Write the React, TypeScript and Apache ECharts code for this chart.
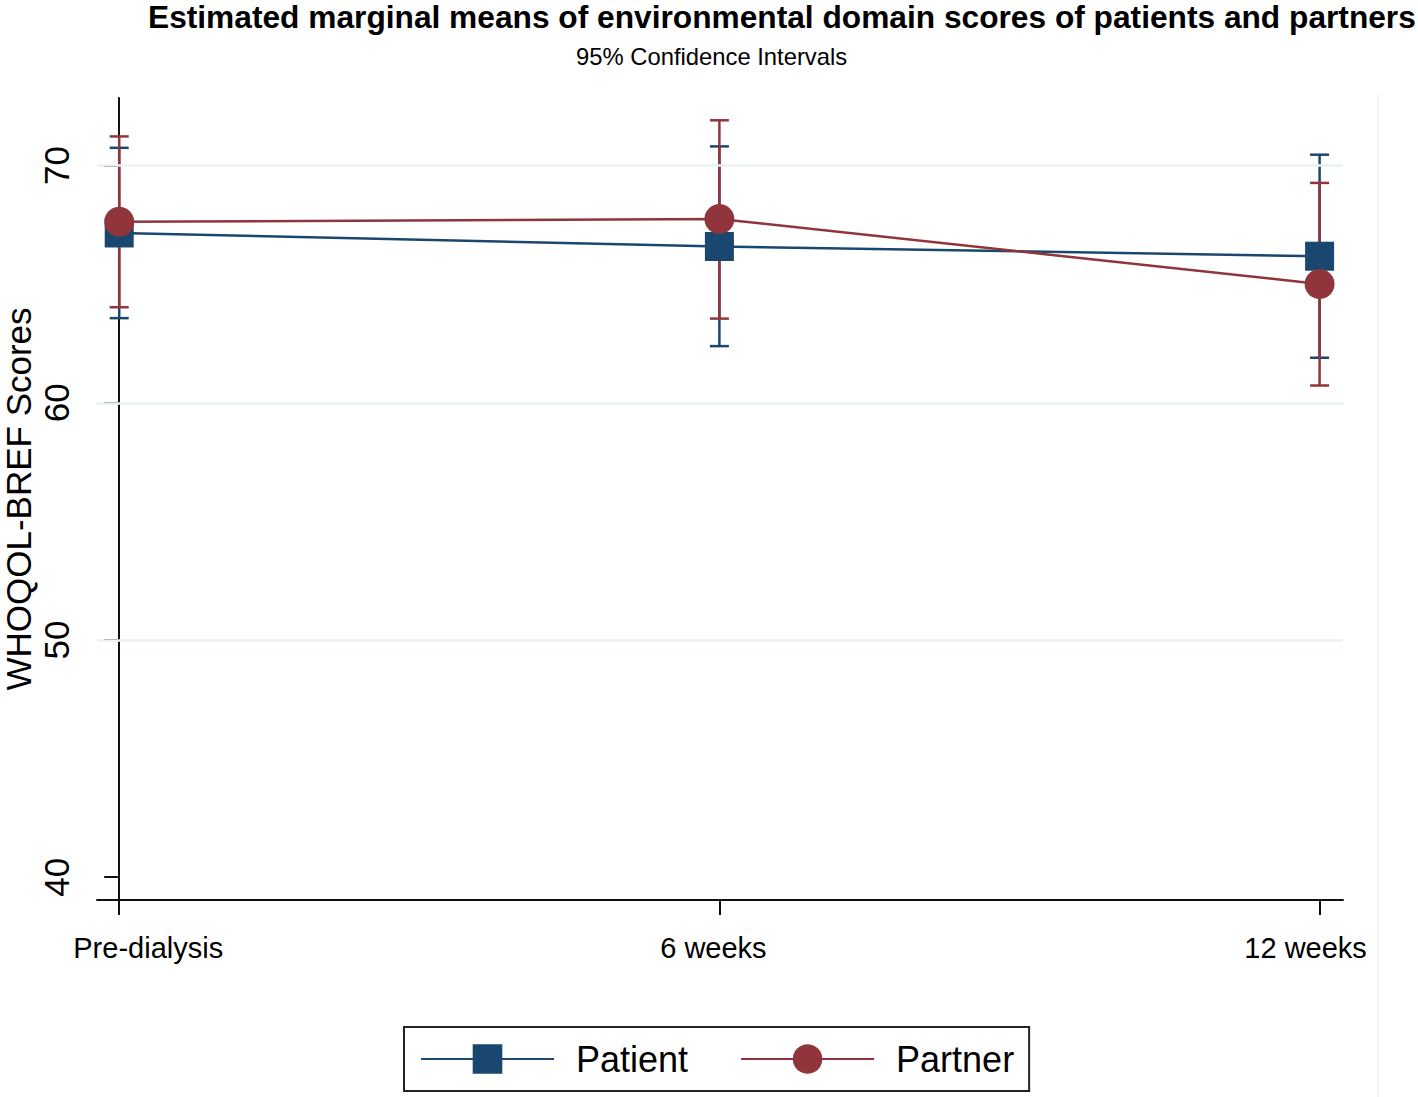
import React, { useEffect, useRef } from "react";
import * as echarts from "echarts";

const timePoints = ["Pre-dialysis", "6 weeks", "12 weeks"];
const timeX = [0, 1, 2];

const patientMean = [67.16, 66.59, 66.18];
const patientLow = [63.57, 62.39, 61.9];
const patientHigh = [70.75, 70.81, 70.46];

const partnerMean = [67.63, 67.75, 65.01];
const partnerLow = [64.03, 63.55, 60.73];
const partnerHigh = [71.23, 71.91, 69.27];

const yTicks = [40, 50, 60, 70];
const gridValues = [50, 60, 70];

const BLUE = "#1a476f";
const RED = "#90353b";
const SANS = "'Liberation Sans', Arial, sans-serif";

// label shifts (px) relative to tick, as in the reference
const labelShift = [29, -6, -14];

function errorBarSeries(name: string, color: string, low: number[], high: number[], z: number) {
  return {
    name,
    type: "custom",
    z,
    silent: true,
    data: timeX.map((x, i) => [x, low[i], high[i]]),
    renderItem: (_params: any, api: any) => {
      const x = api.value(0);
      const lo = api.coord([x, api.value(1)]);
      const hi = api.coord([x, api.value(2)]);
      const hw = 9.5;
      const style = { stroke: color, lineWidth: 2.5 };
      return {
        type: "group",
        children: [
          { type: "line", shape: { x1: lo[0], y1: lo[1], x2: hi[0], y2: hi[1] }, style },
          { type: "line", shape: { x1: lo[0] - hw, y1: lo[1], x2: lo[0] + hw, y2: lo[1] }, style },
          { type: "line", shape: { x1: hi[0] - hw, y1: hi[1], x2: hi[0] + hw, y2: hi[1] }, style },
        ],
      };
    },
  };
}

export default function App() {
  const ref = useRef<HTMLDivElement>(null);
  useEffect(() => {
    if (!ref.current) return;
    const chart = echarts.init(ref.current, null, { renderer: "svg" });
    const labelStyle = { fontFamily: SANS, fontSize: 29, color: "#000" };
    const option: any = {
      animation: false,
      backgroundColor: "#ffffff",
      title: [
        {
          text: "Estimated marginal means of environmental domain scores of patients and partners",
          left: 148,
          top: 1,
          padding: 0,
          textStyle: { fontFamily: SANS, fontWeight: "bold", fontSize: 31.7, color: "#000" },
        },
        {
          text: "95% Confidence Intervals",
          left: 576,
          top: 44,
          padding: 0,
          textStyle: { fontFamily: SANS, fontWeight: "normal", fontSize: 23.8, color: "#000" },
        },
      ],
      grid: { left: 97, right: 75, top: 98, bottom: 197, containLabel: false, outerBoundsMode: "none" },
      legend: {
        data: ["Patient", "Partner"],
        left: 404,
        top: 1027,
        orient: "horizontal",
        padding: [14, 15, 14, 16],
        itemWidth: 133,
        itemHeight: 37,
        itemGap: 52,
        borderColor: "#222",
        borderWidth: 2,
        borderRadius: 0,
        backgroundColor: "#fff",
        selectedMode: false,
        textStyle: { fontFamily: SANS, fontSize: 36, color: "#000", padding: [0, 0, 0, 17] },
      },
      xAxis: {
        type: "value",
        min: -0.037,
        max: 2.039,
        axisLine: { show: true, lineStyle: { color: "#111", width: 2 } },
        axisTick: { show: true, customValues: timeX, length: 15, lineStyle: { color: "#111", width: 2 } },
        splitLine: { show: false },
        axisLabel: {
          customValues: timeX,
          margin: 33,
          formatter: (v: number) => {
            const i = Math.round(v);
            return `{l${i}|${timePoints[i]}}`;
          },
          rich: {
            l0: { ...labelStyle, padding: [0, 0, 0, 2 * labelShift[0]] },
            l1: { ...labelStyle, padding: [0, -2 * labelShift[1], 0, 0] },
            l2: { ...labelStyle, padding: [0, -2 * labelShift[2], 0, 0] },
          },
        },
      },
      yAxis: {
        type: "value",
        min: 39.04,
        max: 72.85,
        name: "WHOQOL-BREF Scores",
        nameLocation: "middle",
        nameGap: 62,
        nameMoveOverlap: false,
        nameRotate: 90,
        nameTextStyle: { fontFamily: SANS, fontSize: 35, lineHeight: 34, color: "#000" },
        axisLine: { show: true, lineStyle: { color: "#111", width: 2 } },
        axisTick: { show: true, customValues: yTicks, length: 15, lineStyle: { color: "#111", width: 2 } },
        splitLine: { show: false },
        axisLabel: {
          customValues: yTicks,
          rotate: 90,
          margin: 23,
          fontFamily: SANS,
          fontSize: 35,
          color: "#000",
        },
      },
      graphic: [
        {
          type: "line",
          shape: { x1: 1378, y1: 93, x2: 1378, y2: 1097 },
          style: { stroke: "#f1f4f6", lineWidth: 1.5 },
          silent: true,
          z: 0,
        },
      ],
      series: [
        {
          name: "grid",
          type: "line",
          data: [],
          z: 1,
          silent: true,
          markLine: {
            silent: true,
            symbol: "none",
            label: { show: false },
            lineStyle: { color: "#eaf2f3", width: 2.5, type: "solid" },
            data: gridValues.map((v) => ({ yAxis: v })),
          },
        },
        errorBarSeries("Patient CI", BLUE, patientLow, patientHigh, 2),
        errorBarSeries("Partner CI", RED, partnerLow, partnerHigh, 3),
        {
          name: "Patient",
          type: "line",
          z: 4,
          data: timeX.map((x, i) => [x, patientMean[i]]),
          symbol: "rect",
          symbolSize: 29,
          color: BLUE,
          itemStyle: { color: BLUE },
          lineStyle: { color: BLUE, width: 2.5 },
        },
        {
          name: "Partner",
          type: "line",
          z: 5,
          data: timeX.map((x, i) => [x, partnerMean[i]]),
          symbol: "circle",
          symbolSize: 30,
          color: RED,
          itemStyle: { color: RED },
          lineStyle: { color: RED, width: 2.5 },
        },
      ],
    };
    chart.setOption(option);
    return () => chart.dispose();
  }, []);
  return <div ref={ref} style={{ width: 1418, height: 1097, position: "absolute", left: 0, top: 0 }} />;
}
